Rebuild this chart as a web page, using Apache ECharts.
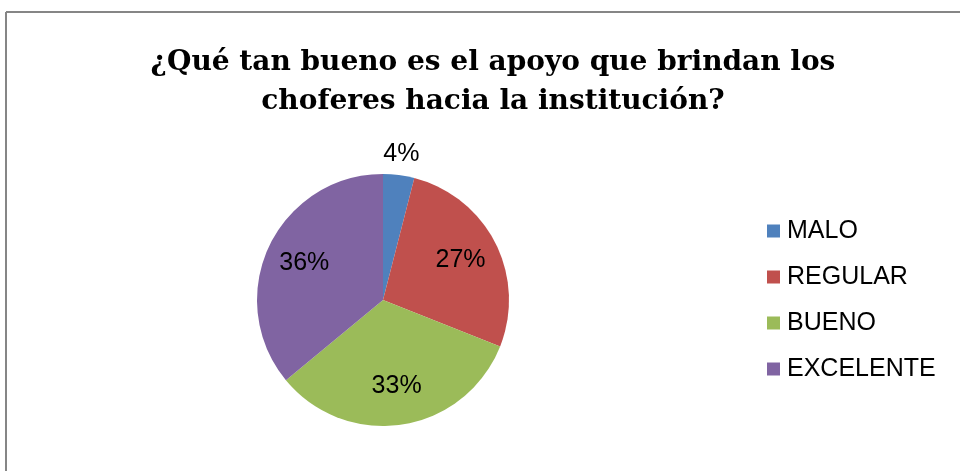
<!DOCTYPE html>
<html>
<head>
<meta charset="utf-8">
<script src="https://cdn.jsdelivr.net/npm/echarts@6/dist/echarts.min.js"></script>
<style>
html,body{margin:0;padding:0;background:#fff;}
#chart{width:960px;height:471px;}
</style>
</head>
<body>
<div id="chart"></div>
<script>
const titleText = '¿Qué tan bueno es el apoyo que brindan los\nchoferes hacia la institución?';
const categories = ['MALO', 'REGULAR', 'BUENO', 'EXCELENTE'];
const values = [4, 27, 33, 36];
const colors = ['#4F81BD', '#C0504D', '#9BBB59', '#8064A2'];

const chart = echarts.init(document.getElementById('chart'), null, {renderer: 'canvas'});

const mainData = categories.map((c, i) => ({name: c, value: values[i], itemStyle: {color: colors[i]}}));
const ghostInner = categories.map((c, i) => ({name: c, value: values[i], label: {show: i !== 0}}));
const ghostOuter = categories.map((c, i) => ({name: c, value: values[i], label: {show: i === 0}}));

const labelStyle = {
  position: 'inside',
  formatter: '{d}%',
  color: '#000',
  fontFamily: 'Liberation Sans',
  fontSize: 25
};

chart.setOption({
  backgroundColor: '#fff',
  animation: false,
  title: {
    text: titleText,
    left: 488,
    top: 38,
    textAlign: 'center',
    textStyle: {
      fontFamily: 'DejaVu Serif',
      fontWeight: 'bold',
      fontSize: 28,
      lineHeight: 39,
      color: '#000'
    }
  },
  legend: {
    orient: 'vertical',
    left: 762,
    top: 213,
    itemWidth: 13,
    itemHeight: 13,
    itemGap: 20,
    icon: 'rect',
    data: categories,
    textStyle: {fontFamily: 'Liberation Sans', fontSize: 25, color: '#000', lineHeight: 26, padding: [0, 0, 0, 2]}
  },
  graphic: [
    {type: 'line', shape: {x1: 6, y1: 12, x2: 960, y2: 12}, style: {stroke: '#868686', lineWidth: 2}, z: 100},
    {type: 'line', shape: {x1: 6, y1: 12, x2: 6, y2: 471}, style: {stroke: '#868686', lineWidth: 2}, z: 100}
  ],
  series: [
    {
      type: 'pie',
      name: 'main',
      center: [383, 300],
      radius: [0, 126],
      startAngle: 90,
      clockwise: true,
      data: mainData,
      label: {show: false},
      labelLine: {show: false},
      emphasis: {disabled: true},
      silent: true
    },
    {
      type: 'pie',
      name: 'labelsInner',
      center: [383, 300],
      radius: [0, 168],
      startAngle: 90,
      data: ghostInner,
      itemStyle: {color: 'rgba(0,0,0,0)'},
      label: labelStyle,
      labelLine: {show: false},
      emphasis: {disabled: true},
      silent: true,
      z: 5
    },
    {
      type: 'pie',
      name: 'labelsOuter',
      center: [383, 300],
      radius: [126, 162],
      startAngle: 90,
      data: ghostOuter,
      itemStyle: {color: 'rgba(0,0,0,0)'},
      label: labelStyle,
      labelLine: {show: false},
      emphasis: {disabled: true},
      silent: true,
      z: 5
    }
  ]
});
</script>
</body>
</html>
